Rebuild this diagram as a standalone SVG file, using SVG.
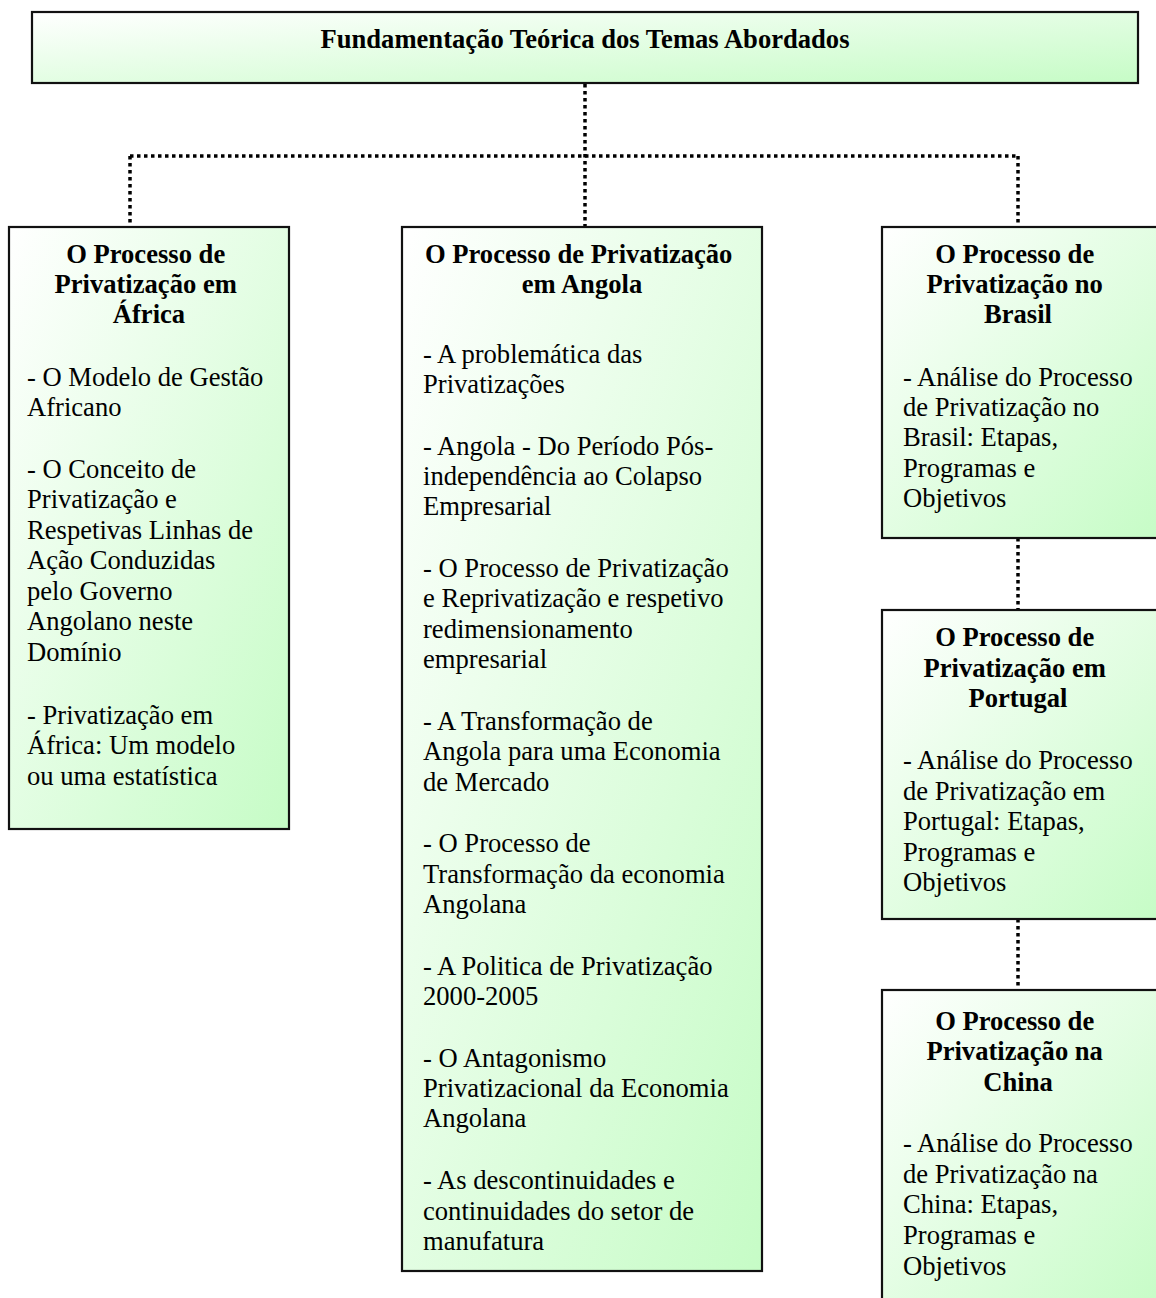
<svg xmlns="http://www.w3.org/2000/svg" width="1156" height="1298" viewBox="0 0 1156 1298">
  <defs>
    <linearGradient id="boxFill" x1="0" y1="0" x2="1" y2="1">
      <stop offset="0" stop-color="#ffffff"/>
      <stop offset="1" stop-color="#c6fcc6"/>
    </linearGradient>
  </defs>
  <style>
    .box { fill: url(#boxFill); stroke: #111; stroke-width: 2.2; }
    .link { fill: none; stroke: #000; stroke-width: 3.5; stroke-dasharray: 3.5 3.5; }
    text { font-family: "Liberation Serif", "Times New Roman", serif; font-size: 26.6px; fill: #000; }
    .head { font-weight: bold; text-anchor: middle; }
  </style>
  <rect width="1156" height="1298" fill="#ffffff"/>

  <!-- dotted tree connectors -->
  <g id="connectors">
    <path class="link" d="M585 84 V227"/>
    <path class="link" d="M130 156 H1018"/>
    <path class="link" d="M130 156 V227"/>
    <path class="link" d="M1018 156 V227"/>
    <path class="link" d="M1018 538 V610"/>
    <path class="link" d="M1018 919 V990"/>
  </g>

  <!-- root -->
  <g id="root">
    <rect class="box" x="32" y="12" width="1106" height="71"/>
    <text class="head" x="585" y="48">Fundamentação Teórica dos Temas Abordados</text>
  </g>

  <!-- África -->
  <g id="africa">
    <rect class="box" x="9" y="227" width="280" height="602"/>
    <text class="head">
      <tspan x="149" y="263">O Processo de</tspan>
      <tspan x="149" y="293">Privatização em</tspan>
      <tspan x="149" y="323">África</tspan>
    </text>
    <text>
      <tspan x="27" y="386">- O Modelo de Gestão</tspan>
      <tspan x="27" y="416">Africano</tspan>
      <tspan x="27" y="478">- O Conceito de</tspan>
      <tspan x="27" y="508">Privatização e</tspan>
      <tspan x="27" y="539">Respetivas Linhas de</tspan>
      <tspan x="27" y="569">Ação Conduzidas</tspan>
      <tspan x="27" y="600">pelo Governo</tspan>
      <tspan x="27" y="630">Angolano neste</tspan>
      <tspan x="27" y="661">Domínio</tspan>
      <tspan x="27" y="724">- Privatização em</tspan>
      <tspan x="27" y="754">África: Um modelo</tspan>
      <tspan x="27" y="785">ou uma estatística</tspan>
    </text>
  </g>

  <!-- Angola -->
  <g id="angola">
    <rect class="box" x="402" y="227" width="360" height="1044"/>
    <text class="head">
      <tspan x="582" y="263">O Processo de Privatização</tspan>
      <tspan x="582" y="293">em Angola</tspan>
    </text>
    <text>
      <tspan x="423" y="363">- A problemática das</tspan>
      <tspan x="423" y="393">Privatizações</tspan>
      <tspan x="423" y="455">- Angola - Do Período Pós-</tspan>
      <tspan x="423" y="485">independência ao Colapso</tspan>
      <tspan x="423" y="515">Empresarial</tspan>
      <tspan x="423" y="577">- O Processo de Privatização</tspan>
      <tspan x="423" y="607">e Reprivatização e respetivo</tspan>
      <tspan x="423" y="638">redimensionamento</tspan>
      <tspan x="423" y="668">empresarial</tspan>
      <tspan x="423" y="730">- A Transformação de</tspan>
      <tspan x="423" y="760">Angola para uma Economia</tspan>
      <tspan x="423" y="791">de Mercado</tspan>
      <tspan x="423" y="852">- O Processo de</tspan>
      <tspan x="423" y="883">Transformação da economia</tspan>
      <tspan x="423" y="913">Angolana</tspan>
      <tspan x="423" y="975">- A Politica de Privatização</tspan>
      <tspan x="423" y="1005">2000-2005</tspan>
      <tspan x="423" y="1067">- O Antagonismo</tspan>
      <tspan x="423" y="1097">Privatizacional da Economia</tspan>
      <tspan x="423" y="1127">Angolana</tspan>
      <tspan x="423" y="1189">- As descontinuidades e</tspan>
      <tspan x="423" y="1220">continuidades do setor de</tspan>
      <tspan x="423" y="1250">manufatura</tspan>
    </text>
  </g>

  <!-- Brasil -->
  <g id="brasil">
    <rect class="box" x="882" y="227" width="278" height="311"/>
    <text class="head">
      <tspan x="1018" y="263">O Processo de</tspan>
      <tspan x="1018" y="293">Privatização no</tspan>
      <tspan x="1018" y="323">Brasil</tspan>
    </text>
    <text>
      <tspan x="903" y="386">- Análise do Processo</tspan>
      <tspan x="903" y="416">de Privatização no</tspan>
      <tspan x="903" y="446">Brasil: Etapas,</tspan>
      <tspan x="903" y="477">Programas e</tspan>
      <tspan x="903" y="507">Objetivos</tspan>
    </text>
  </g>

  <!-- Portugal -->
  <g id="portugal">
    <rect class="box" x="882" y="610" width="278" height="309"/>
    <text class="head">
      <tspan x="1018" y="646">O Processo de</tspan>
      <tspan x="1018" y="677">Privatização em</tspan>
      <tspan x="1018" y="707">Portugal</tspan>
    </text>
    <text>
      <tspan x="903" y="769">- Análise do Processo</tspan>
      <tspan x="903" y="800">de Privatização em</tspan>
      <tspan x="903" y="830">Portugal: Etapas,</tspan>
      <tspan x="903" y="861">Programas e</tspan>
      <tspan x="903" y="891">Objetivos</tspan>
    </text>
  </g>

  <!-- China -->
  <g id="china">
    <rect class="box" x="882" y="990" width="278" height="320"/>
    <text class="head">
      <tspan x="1018" y="1030">O Processo de</tspan>
      <tspan x="1018" y="1060">Privatização na</tspan>
      <tspan x="1018" y="1091">China</tspan>
    </text>
    <text>
      <tspan x="903" y="1152">- Análise do Processo</tspan>
      <tspan x="903" y="1183">de Privatização na</tspan>
      <tspan x="903" y="1213">China: Etapas,</tspan>
      <tspan x="903" y="1244">Programas e</tspan>
      <tspan x="903" y="1275">Objetivos</tspan>
    </text>
  </g>
</svg>
